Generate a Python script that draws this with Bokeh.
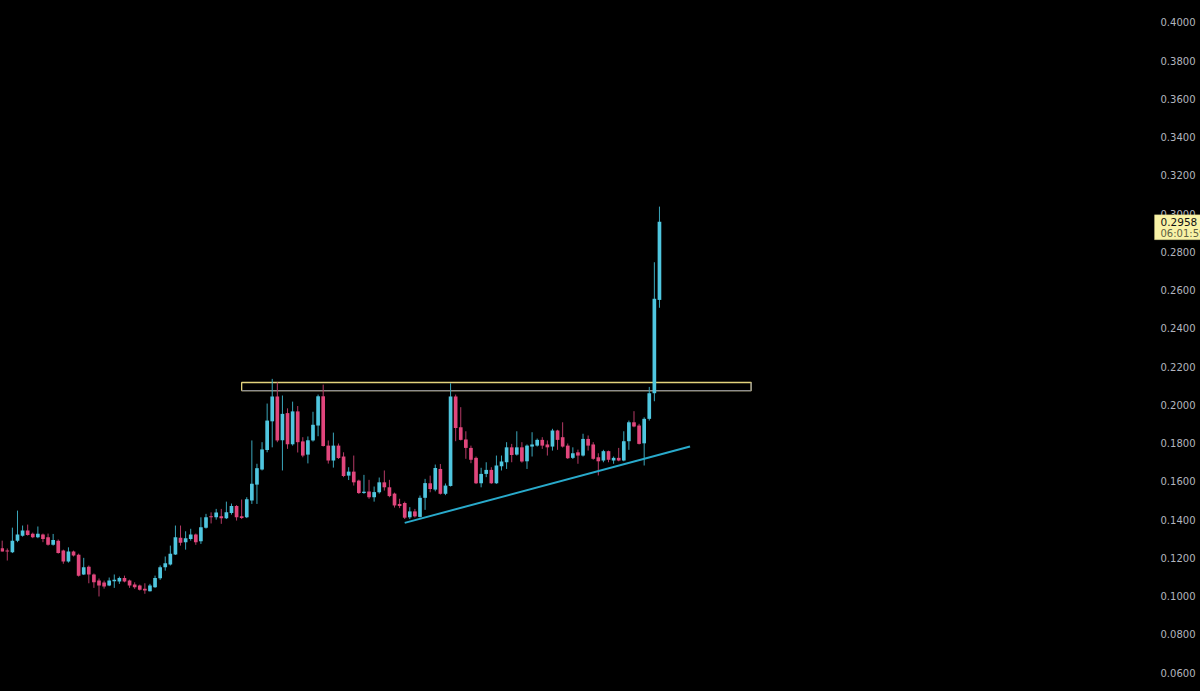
from bokeh.plotting import figure
from bokeh.models import Range1d, LinearAxis, FixedTicker, NumeralTickFormatter, Label, BoxAnnotation
from bokeh.embed import file_html
from bokeh.resources import INLINE

opens = [0.1250,0.1238,0.1229,0.1290,0.1316,0.1343,0.1326,0.1308,0.1322,0.1308,
0.1268,0.1290,0.1238,0.1181,0.1233,0.1216,0.1113,0.1154,0.1113,0.1081,
0.1071,0.1055,0.1078,0.1076,0.1095,0.1081,0.1060,0.1055,0.1038,0.1025,
0.1046,0.1093,0.1151,0.1165,0.1217,0.1305,0.1282,0.1299,0.1322,0.1287,
0.1357,0.1417,0.1412,0.1417,0.1407,0.1434,0.1471,0.1417,0.1412,0.1500,
0.1583,0.1662,0.1764,0.1914,0.2044,0.1815,0.1957,0.1794,0.1966,0.1809,
0.1740,0.1814,0.1892,0.2045,0.1787,0.1709,0.1787,0.1730,0.1630,0.1651,
0.1604,0.1539,0.1547,0.1517,0.1543,0.1595,0.1569,0.1536,0.1482,0.1487,
0.1412,0.1443,0.1414,0.1514,0.1590,0.1557,0.1665,0.1535,0.1576,0.2044,
0.1883,0.1819,0.1775,0.1723,0.1590,0.1639,0.1660,0.1590,0.1679,0.1700,
0.1778,0.1740,0.1778,0.1705,0.1782,0.1787,0.1817,0.1793,0.1782,0.1866,
0.1831,0.1787,0.1723,0.1752,0.1735,0.1822,0.1793,0.1726,0.1709,0.1758,
0.1709,0.1723,0.1709,0.1810,0.1909,0.1892,0.1799,0.1927,0.2061,0.2549]

highs = [0.1290,0.1249,0.1358,0.1447,0.1369,0.1374,0.1332,0.1364,0.1327,0.1327,
0.1325,0.1296,0.1243,0.1255,0.1238,0.1222,0.1200,0.1160,0.1118,0.1092,
0.1081,0.1097,0.1113,0.1102,0.1107,0.1086,0.1072,0.1060,0.1067,0.1064,
0.1107,0.1160,0.1207,0.1264,0.1369,0.1369,0.1339,0.1352,0.1327,0.1412,
0.1430,0.1438,0.1456,0.1456,0.1494,0.1484,0.1476,0.1505,0.1517,0.1814,
0.1692,0.1805,0.2007,0.2136,0.2118,0.2049,0.1982,0.2017,0.1994,0.1831,
0.1835,0.1964,0.2054,0.2106,0.1814,0.1855,0.1798,0.1752,0.1674,0.1735,
0.1609,0.1634,0.1608,0.1573,0.1620,0.1657,0.1608,0.1541,0.1509,0.1494,
0.1465,0.1456,0.1526,0.1613,0.1630,0.1688,0.1691,0.1589,0.2113,0.2054,
0.1988,0.1862,0.1787,0.1730,0.1671,0.1700,0.1674,0.1735,0.1735,0.1805,
0.1796,0.1862,0.1805,0.1793,0.1857,0.1824,0.1831,0.1814,0.1875,0.1870,
0.1909,0.1798,0.1778,0.1766,0.1849,0.1840,0.1805,0.1747,0.1765,0.1761,
0.1730,0.1775,0.1862,0.1918,0.1967,0.1901,0.1935,0.2094,0.2746,0.3037]

lows = [0.1233,0.1186,0.1225,0.1282,0.1311,0.1316,0.1303,0.1303,0.1282,0.1264,
0.1264,0.1222,0.1169,0.1175,0.1207,0.1102,0.1110,0.1067,0.1043,0.0998,
0.1039,0.1052,0.1043,0.1064,0.1072,0.1043,0.1038,0.1029,0.1012,0.1024,
0.1043,0.1085,0.1133,0.1160,0.1215,0.1264,0.1243,0.1290,0.1268,0.1273,
0.1353,0.1380,0.1400,0.1378,0.1403,0.1426,0.1395,0.1403,0.1408,0.1482,
0.1482,0.1657,0.1752,0.1778,0.1805,0.1657,0.1770,0.1787,0.1751,0.1726,
0.1694,0.1808,0.1836,0.1782,0.1693,0.1672,0.1717,0.1622,0.1607,0.1578,
0.1534,0.1535,0.1509,0.1494,0.1536,0.1552,0.1517,0.1463,0.1460,0.1403,
0.1403,0.1411,0.1411,0.1451,0.1543,0.1548,0.1531,0.1528,0.1573,0.1810,
0.1814,0.1718,0.1695,0.1586,0.1569,0.1622,0.1587,0.1587,0.1657,0.1665,
0.1700,0.1735,0.1698,0.1665,0.1730,0.1782,0.1770,0.1735,0.1761,0.1765,
0.1777,0.1717,0.1717,0.1692,0.1730,0.1761,0.1713,0.1631,0.1700,0.1700,
0.1692,0.1705,0.1705,0.1765,0.1883,0.1793,0.1683,0.1918,0.2019,0.2508]

closes = [0.1233,0.1233,0.1290,0.1322,0.1343,0.1320,0.1308,0.1326,0.1299,0.1268,
0.1294,0.1226,0.1181,0.1233,0.1212,0.1107,0.1151,0.1113,0.1072,0.1055,
0.1050,0.1081,0.1085,0.1095,0.1076,0.1055,0.1046,0.1033,0.1029,0.1055,
0.1095,0.1151,0.1172,0.1221,0.1308,0.1279,0.1302,0.1322,0.1282,0.1360,
0.1412,0.1412,0.1437,0.1407,0.1438,0.1471,0.1412,0.1408,0.1506,0.1587,
0.1669,0.1767,0.1918,0.2044,0.1814,0.1953,0.1794,0.1966,0.1805,0.1735,
0.1815,0.1896,0.2045,0.1785,0.1709,0.1787,0.1722,0.1628,0.1651,0.1595,
0.1539,0.1546,0.1517,0.1544,0.1595,0.1569,0.1523,0.1474,0.1471,0.1410,
0.1443,0.1417,0.1514,0.1591,0.1560,0.1670,0.1535,0.1578,0.2044,0.1879,
0.1817,0.1775,0.1713,0.1590,0.1639,0.1660,0.1590,0.1683,0.1704,0.1778,
0.1738,0.1778,0.1704,0.1787,0.1793,0.1817,0.1787,0.1778,0.1866,0.1817,
0.1782,0.1721,0.1747,0.1735,0.1822,0.1787,0.1718,0.1705,0.1758,0.1713,
0.1723,0.1709,0.1810,0.1909,0.1887,0.1796,0.1927,0.2061,0.2555,0.2958]

tick_values = [0.06, 0.08, 0.10, 0.12, 0.14, 0.16, 0.18, 0.20, 0.22,
               0.24, 0.26, 0.28, 0.30, 0.32, 0.34, 0.36, 0.38, 0.40]

# resistance zone (bar index span, price band)
zone_bars = [47, 147]
zone_prices = [0.2075, 0.2117]
# rising support trendline
trend_bars = [79, 135]
trend_prices = [0.1383, 0.1782]
last_time = "06:01:59"

UP = "#4fc6df"
DOWN = "#e0467c"
UP_WICK = "#3aa6ba"
DOWN_WICK = "#b43a66"

idx = list(range(len(opens)))
is_up = [c >= o for o, c in zip(opens, closes)]
body_top = [max(o, c) for o, c in zip(opens, closes)]
body_bot = [min(o, c) for o, c in zip(opens, closes)]
body_col = [UP if u else DOWN for u in is_up]
wick_col = [UP_WICK if u else DOWN_WICK for u in is_up]

p = figure(width=1200, height=691, output_backend="svg", toolbar_location=None,
           x_range=Range1d(-0.334, 235.19), y_range=Range1d(0.0501, 0.4115),
           min_border_left=0, min_border_right=0, min_border_top=0, min_border_bottom=0,
           background_fill_color="black", border_fill_color="black",
           x_axis_location=None, y_axis_location=None)
p.outline_line_color = None
p.outline_line_alpha = 0
p.xgrid.visible = False
p.ygrid.visible = False

# price scale drawn over the right edge of the frame
ax = LinearAxis(ticker=FixedTicker(ticks=tick_values),
                formatter=NumeralTickFormatter(format="0.0000"),
                axis_line_color=None, major_tick_line_color=None, minor_tick_line_color=None,
                major_tick_in=0, major_tick_out=0,
                major_label_text_color="#b2b5be", major_label_text_font="DejaVu Sans",
                major_label_text_font_size="10px", major_label_standoff=-40)
p.add_layout(ax, "right")

# zone
p.quad(left=[zone_bars[0]], right=[zone_bars[1]], top=[zone_prices[1]], bottom=[zone_prices[0]],
       fill_color=None, line_color="#e3d37c", line_width=1.3)
p.segment(x0=[zone_bars[0], zone_bars[1]], y0=[zone_prices[0], zone_prices[0]],
          x1=[zone_bars[1], zone_bars[1]], y1=[zone_prices[0], zone_prices[1]],
          line_color="#8d8d8d", line_width=1.3)

# candles
p.segment(x0=idx, y0=highs, x1=idx, y1=lows, line_color=wick_col, line_width=1)
p.vbar(x=idx, width=0.72, top=body_top, bottom=body_bot, fill_color=body_col, line_color=None)

# trendline
p.line(trend_bars, trend_prices, line_color="#29aacb", line_width=2)

# last price tag
last_price = closes[-1]
tag_box = BoxAnnotation(left=1154, right=1200, left_units="screen", right_units="screen",
                        top=last_price + 0.0036, bottom=last_price - 0.0094,
                        fill_color="#f8f2a6", fill_alpha=1.0, line_color="#d8d08a",
                        line_width=1, level="annotation")
p.add_layout(tag_box)
tag = Label(x=1160, x_units="screen", y=last_price, y_units="data",
            text=f"{last_price:.4f}", text_color="#111111",
            text_font="DejaVu Sans", text_font_size="10.5px", text_baseline="middle",
            level="overlay")
tag2 = Label(x=1160, x_units="screen", y=last_price, y_units="data",
             text=last_time, text_color="#5e5e40",
             text_font="DejaVu Sans", text_font_size="10px", text_baseline="middle",
             y_offset=-12, level="overlay")
p.add_layout(tag)
p.add_layout(tag2)

html = file_html(p, INLINE)
html = html.replace("<head>", "<head><style>html,body{background:#000;margin:0;padding:0;}</style>", 1)
open("out.html", "w").write(html)
